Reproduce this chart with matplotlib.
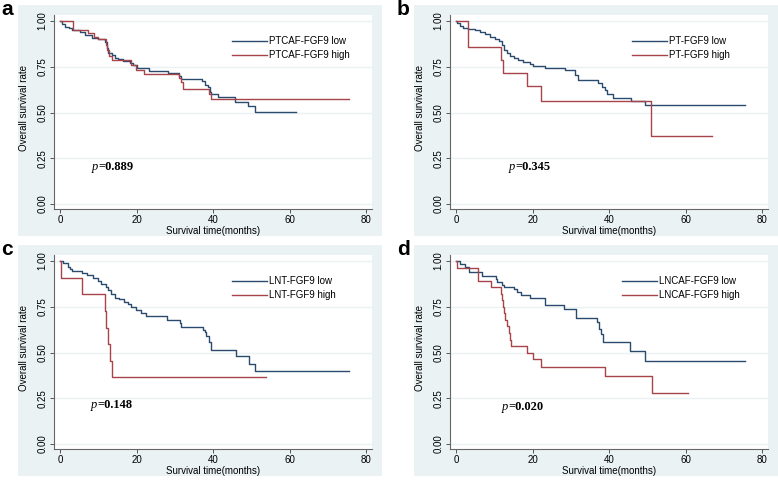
#importing modules
import matplotlib
matplotlib.use('Agg')
import matplotlib.pyplot as plt
from matplotlib.patches import Rectangle

plt.rcParams['font.family'] = ['Liberation Sans', 'DejaVu Sans']

# panel a : PTCAF-FGF9
a_low_t = [0, 0.4, 1.3, 2.2, 3.0, 5.2, 6.5, 8.3, 10.0, 11.7, 12.2, 12.6, 13.5, 14.4, 15.2, 16.5,
           18.3, 19.1, 20.0, 23.1, 28.3, 31.1, 31.6, 37.0, 37.9, 38.6, 39.2, 39.4, 41.3, 45.6,
           49.1, 50.8, 61.7]
a_low_s = [1.0, 0.982, 0.969, 0.96, 0.951, 0.942, 0.924, 0.909, 0.902, 0.887, 0.851, 0.824,
           0.815, 0.80, 0.791, 0.782, 0.77, 0.76, 0.746, 0.728, 0.715, 0.70, 0.683, 0.67, 0.652,
           0.637, 0.615, 0.60, 0.583, 0.56, 0.535, 0.503, 0.503]
a_high_t = [0, 3.3, 7.3, 8.9, 10.0, 11.9, 12.2, 12.7, 13.6, 18.5, 19.7, 22.0, 31.0, 31.5, 32.2,
            39.0, 39.4, 75.6]
a_high_s = [1.0, 0.951, 0.933, 0.912, 0.90, 0.87, 0.84, 0.81, 0.785, 0.76, 0.73, 0.709, 0.69,
            0.665, 0.628, 0.60, 0.574, 0.574]

# panel b : PT-FGF9
b_low_t = [0, 0.2, 1.0, 1.9, 3.2, 5.0, 6.3, 7.6, 8.9, 10.2, 11.3, 11.9, 12.5, 13.2, 14.1, 15.0,
           16.3, 17.6, 19.3, 20.2, 23.2, 28.5, 31.1, 31.9, 37.2, 38.0, 38.9, 39.3, 41.1, 45.8,
           49.4, 75.5]
b_low_s = [1.0, 0.987, 0.974, 0.964, 0.956, 0.951, 0.938, 0.927, 0.915, 0.902, 0.891, 0.869,
           0.842, 0.824, 0.811, 0.80, 0.787, 0.778, 0.764, 0.755, 0.742, 0.733, 0.706, 0.679,
           0.661, 0.642, 0.624, 0.601, 0.58, 0.565, 0.54, 0.54]
b_high_t = [0, 3.2, 11.7, 12.2, 18.4, 22.2, 51.0, 66.8]
b_high_s = [1.0, 0.857, 0.786, 0.714, 0.643, 0.561, 0.374, 0.374]

# panel c : LNT-FGF9
c_low_t = [0, 0.8, 2.1, 2.5, 3.2, 5.6, 7.0, 8.6, 9.9, 10.8, 11.9, 12.4, 13.4, 14.3, 15.4, 16.6,
           17.8, 18.6, 19.9, 21.2, 22.5, 23.0, 28.0, 31.2, 31.5, 37.3, 37.8, 38.2, 38.8, 39.3,
           45.9, 49.3, 50.8, 75.6]
c_low_s = [1.0, 0.99, 0.97, 0.955, 0.945, 0.935, 0.925, 0.91, 0.89, 0.875, 0.86, 0.84, 0.82,
           0.80, 0.79, 0.775, 0.765, 0.75, 0.735, 0.715, 0.70, 0.70, 0.68, 0.66, 0.64, 0.625,
           0.61, 0.59, 0.56, 0.515, 0.48, 0.44, 0.40, 0.40]
c_high_t = [0, 0.2, 5.8, 11.7, 12.0, 12.5, 13.1, 13.5, 53.9]
c_high_s = [1.0, 0.909, 0.818, 0.727, 0.636, 0.545, 0.455, 0.364, 0.364]

# panel d : LNCAF-FGF9
d_low_t = [0, 1.1, 2.2, 3.3, 6.8, 10.3, 10.7, 12.0, 12.4, 15.2, 15.9, 17.0, 19.2, 23.1, 28.1,
           31.2, 36.8, 37.4, 37.9, 38.4, 45.5, 49.4, 75.5]
d_low_s = [1.0, 0.985, 0.965, 0.94, 0.92, 0.90, 0.885, 0.87, 0.86, 0.845, 0.83, 0.815, 0.80,
           0.76, 0.74, 0.69, 0.665, 0.63, 0.60, 0.56, 0.51, 0.455, 0.455]
d_high_t = [0, 0.3, 5.7, 9.1, 11.6, 11.9, 12.2, 12.5, 12.9, 13.3, 13.8, 14.1, 14.4, 18.4, 20.1,
            22.2, 39.0, 51.2, 60.7]
d_high_s = [1.0, 0.964, 0.893, 0.857, 0.821, 0.786, 0.75, 0.714, 0.679, 0.643, 0.607, 0.571,
            0.536, 0.50, 0.464, 0.42, 0.372, 0.28, 0.28]

panel_letters = ['a', 'b', 'c', 'd']
low_labels = ['PTCAF-FGF9 low', 'PT-FGF9 low', 'LNT-FGF9 low', 'LNCAF-FGF9 low']
high_labels = ['PTCAF-FGF9 high', 'PT-FGF9 high', 'LNT-FGF9 high', 'LNCAF-FGF9 high']
p_values = ['=0.889', '=0.345', '=0.148', '=0.020']
x_ticks = [0, 20, 40, 60, 80]
y_ticks = [0, 0.25, 0.5, 0.75, 1.0]
y_tick_labels = ['0.00', '0.25', '0.50', '0.75', '1.00']

lows = [(a_low_t, a_low_s), (b_low_t, b_low_s), (c_low_t, c_low_s), (d_low_t, d_low_s)]
highs = [(a_high_t, a_high_s), (b_high_t, b_high_s), (c_high_t, c_high_s), (d_high_t, d_high_s)]

W, H = 778, 480
BG = '#eaf2f3'
NAVY = '#2a4a6e'
MAROON = '#a8434a'

# layout in pixels (left, top) for each panel
panel_x = [0, 396, 0, 396]
panel_y = [0, 0, 240, 240]
legend_x = [0.56, 0.572, 0.56, 0.541]
p_pos = [(8.3, 0.186), (13.8, 0.186), (8.0, 0.195), (12.0, 0.186)]


def box(x0, y0, x1, y1):
    return [x0 / W, 1 - y1 / H, (x1 - x0) / W, (y1 - y0) / H]


fig = plt.figure(figsize=(W / 100, H / 100), dpi=100)
fig.patch.set_facecolor('white')

for i in range(4):
    ox, oy = panel_x[i], panel_y[i]
    # grey-blue graph region
    b = box(ox + 18, oy + 5, ox + 382, oy + 236)
    fig.add_artist(Rectangle((b[0], b[1]), b[2], b[3], transform=fig.transFigure,
                             facecolor=BG, edgecolor='none', zorder=0))
    fig.text((ox + 1) / W, 1 - (oy + 15) / H, panel_letters[i], fontsize=15,
             fontweight='bold', ha='left', va='baseline')

    ax = fig.add_axes(box(ox + 54, oy + 15, ox + 372, oy + 209))
    ax.set_facecolor('white')
    ax.step(lows[i][0], lows[i][1], where='post', color=NAVY, lw=1.0, label=low_labels[i])
    ax.step(highs[i][0], highs[i][1], where='post', color=MAROON, lw=1.0, label=high_labels[i])

    ax.set_xlim(-1.6, 81.5)
    ax.set_ylim(-0.027, 1.033)
    ax.set_xticks(x_ticks)
    ax.set_yticks(y_ticks)
    ax.set_yticklabels(y_tick_labels, rotation=90, va='center')
    ax.tick_params(direction='out', length=3, width=0.7, color='#555555',
                   labelsize=7, pad=1.5)
    for s in ['top', 'right']:
        ax.spines[s].set_visible(False)
    for s in ['left', 'bottom']:
        ax.spines[s].set_color('#666666')
        ax.spines[s].set_linewidth(0.8)
    ax.yaxis.grid(True, color=BG, lw=1.0)
    ax.set_axisbelow(True)

    ax.set_xlabel('Survival time(months)', fontsize=7, labelpad=0.5)
    ax.set_ylabel('Overall survival rate', fontsize=7)
    ax.yaxis.set_label_coords(-0.08, 0.52)

    ax.legend(loc='upper left', bbox_to_anchor=(legend_x[i], 0.892), frameon=False,
              fontsize=7, handlelength=3.6, handletextpad=0.2, labelspacing=0.45,
              borderpad=0, borderaxespad=0)

    t = ax.text(p_pos[i][0], p_pos[i][1], 'p', fontsize=9, style='italic',
                family='Liberation Serif', va='baseline')
    ax.annotate(p_values[i], xy=(1, 0), xycoords=t, fontsize=9, fontweight='bold',
                family='Liberation Serif', va='bottom')

fig.savefig('out.png', dpi=100)
